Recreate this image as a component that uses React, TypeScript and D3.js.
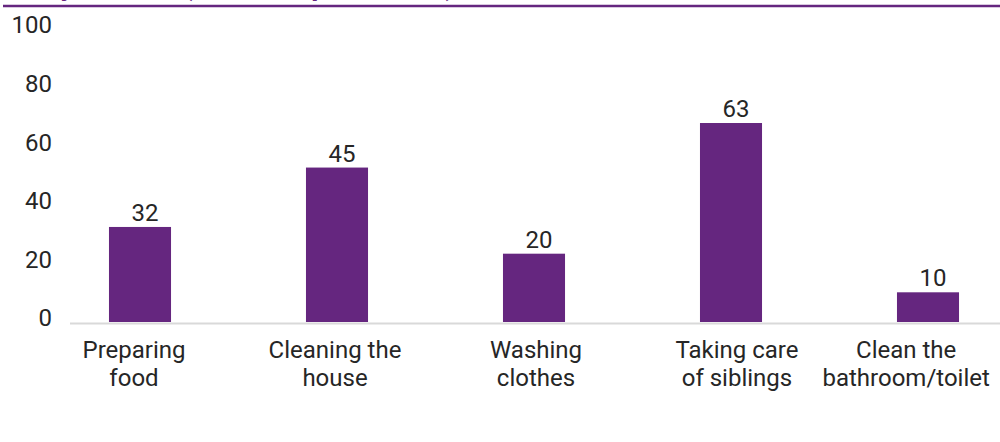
import React, { useEffect, useRef } from "react";
import * as d3 from "d3";

const categories = [
  ["Preparing", "food"],
  ["Cleaning the", "house"],
  ["Washing", "clothes"],
  ["Taking care", "of siblings"],
  ["Clean the", "bathroom/toilet"],
];
const barValues = [32, 52, 23, 67, 10];
const valueLabels = ["32", "45", "20", "63", "10"];
const yTicks = [0, 20, 40, 60, 80, 100];
const titlePre = "Household chores done by children";
const titleParen = "(% of respondents)";

const W = 1000;
const H = 442;
const PURPLE = "#65267f";
const TEXT = "#262626";
const FONT = "Roboto, 'Noto Sans', sans-serif";

export default function App() {
  const ref = useRef<SVGSVGElement | null>(null);

  useEffect(() => {
    const svg = d3.select(ref.current);
    svg.selectAll("*").remove();

    const keys = categories.map((c) => c.join(" "));
    const x = d3
      .scaleBand<string>()
      .domain(keys)
      .range([41.5, 1026.5])
      .paddingInner(0.685)
      .paddingOuter(0.3425);
    const xLab = d3.scaleBand<string>().domain(keys).range([33.5, 1038.5]);
    const y = d3.scaleLinear().domain([0, 100]).range([322, 25]);
    const yLab = d3.scaleLinear().domain([0, 100]).range([318, 25]);

    // title (cut off at top) and rule
    const t = svg
      .append("g")
      .attr("font-family", FONT)
      .attr("font-weight", 700)
      .attr("fill", PURPLE)
      .attr("font-size", 28);
    t.append("text").attr("x", 183).attr("y", -5).attr("text-anchor", "end").text(titlePre);
    t.append("text")
      .attr("x", 183)
      .attr("y", -5)
      .attr("textLength", 272)
      .attr("lengthAdjust", "spacing")
      .text(titleParen);
    svg
      .append("line")
      .attr("x1", 3)
      .attr("x2", W)
      .attr("y1", 6)
      .attr("y2", 6)
      .attr("stroke", PURPLE)
      .attr("stroke-width", 2.5);

    // y labels
    svg
      .append("g")
      .selectAll("text")
      .data(yTicks)
      .join("text")
      .attr("x", 52)
      .attr("y", (d) => yLab(d))
      .attr("dy", "0.35em")
      .attr("text-anchor", "end")
      .attr("font-family", FONT)
      .attr("font-size", 24)
      .attr("fill", TEXT)
      .text((d) => String(d));

    // bars
    svg
      .append("g")
      .selectAll("rect")
      .data(barValues)
      .join("rect")
      .attr("x", (_, i) => x(keys[i])!)
      .attr("width", x.bandwidth())
      .attr("y", (d) => y(d))
      .attr("height", (d) => y(0) - y(d))
      .attr("fill", PURPLE);

    // axis line
    svg
      .append("line")
      .attr("x1", 70)
      .attr("x2", W)
      .attr("y1", 323.5)
      .attr("y2", 323.5)
      .attr("stroke", "#d9d9d9")
      .attr("stroke-width", 2);

    // value labels
    svg
      .append("g")
      .selectAll("text")
      .data(barValues)
      .join("text")
      .attr("x", (_, i) => x(keys[i])! + x.bandwidth() / 2 + 5)
      .attr("y", (d) => y(d) - 6)
      .attr("text-anchor", "middle")
      .attr("font-family", FONT)
      .attr("font-size", 24)
      .attr("fill", TEXT)
      .text((_, i) => valueLabels[i]);

    // category labels
    const cg = svg.append("g").attr("font-family", FONT).attr("font-size", 24).attr("fill", TEXT);
    categories.forEach((lines, i) => {
      const cx = xLab(keys[i])! + xLab.bandwidth() / 2;
      const txt = cg.append("text").attr("text-anchor", "middle").attr("x", cx);
      lines.forEach((l, j) => {
        txt.append("tspan").attr("x", cx).attr("y", 358 + j * 28).text(l);
      });
      const node = txt.node() as SVGTextElement;
      const bb = node.getBBox();
      const limit = W - 10;
      if (bb.x + bb.width > limit) {
        const shift = limit - (bb.x + bb.width);
        txt.selectAll("tspan").attr("x", cx + shift);
      }
    });
  }, []);

  return (
    <svg
      ref={ref}
      width={W}
      height={H}
      style={{ position: "absolute", left: 0, top: 0, background: "#fff" }}
    />
  );
}
